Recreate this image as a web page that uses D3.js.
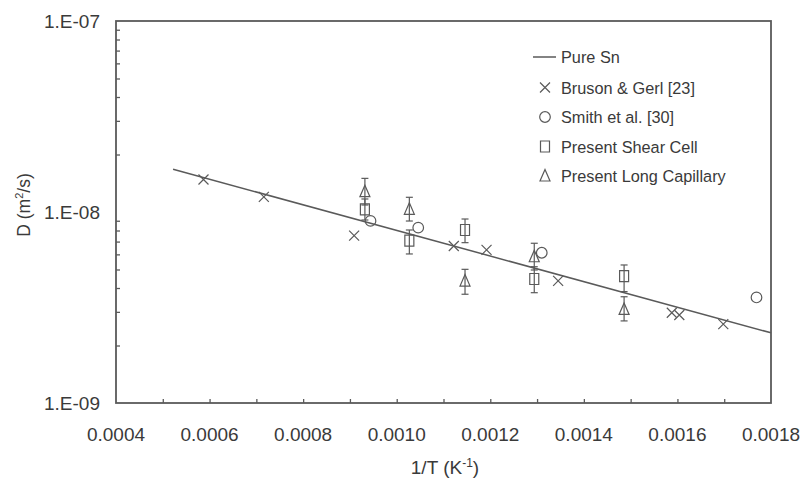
<!DOCTYPE html>
<html>
<head>
<meta charset="utf-8">
<script src="https://cdn.jsdelivr.net/npm/d3@7"></script>
<style>
  html, body { margin: 0; padding: 0; background: #fff; }
  svg { display: block; font-family: "Liberation Sans", Arial, sans-serif; }
</style>
</head>
<body>
<svg id="chart" width="802" height="479"></svg>
<script>
// ---------- data ----------
const xTickValues = [0.0004, 0.0006, 0.0008, 0.0010, 0.0012, 0.0014, 0.0016, 0.0018];
const xTickLabels = ["0.0004", "0.0006", "0.0008", "0.0010", "0.0012", "0.0014", "0.0016", "0.0018"];
const yTickValues = [1e-9, 1e-8, 1e-7];
const yTickLabels = ["1.E-09", "1.E-08", "1.E-07"];

// Pure Sn fit line (end points)
const pureX = [0.000522, 0.0018];
const pureD = [1.675e-8, 2.33e-9];

// Bruson & Gerl [23]
const brusonX = [0.000587, 0.000716, 0.000909, 0.001122, 0.001192, 0.001345, 0.001588, 0.001604, 0.001698];
const brusonD = [1.48e-8, 1.20e-8, 7.52e-9, 6.64e-9, 6.33e-9, 4.36e-9, 2.97e-9, 2.89e-9, 2.59e-9];

// Smith et al. [30]
const smithX = [0.000944, 0.001046, 0.001310, 0.001769];
const smithD = [8.98e-9, 8.28e-9, 6.12e-9, 3.57e-9];

// Present Shear Cell (with error bars)
const shearX  = [0.000932, 0.001027, 0.001146, 0.001294, 0.001486];
const shearD  = [1.033e-8, 7.08e-9, 8.05e-9, 4.46e-9, 4.62e-9];
const shearLo = [9.08e-9, 6.03e-9, 6.91e-9, 3.78e-9, 3.83e-9];
const shearHi = [1.17e-8, 8.05e-9, 9.19e-9, 5.17e-9, 5.28e-9];

// Present Long Capillary (with error bars)
const capX  = [0.000932, 0.001027, 0.001146, 0.001294, 0.001486];
const capD  = [1.277e-8, 1.033e-8, 4.35e-9, 5.83e-9, 3.09e-9];
const capLo = [1.088e-8, 8.97e-9, 3.71e-9, 4.97e-9, 2.69e-9];
const capHi = [1.50e-8, 1.194e-8, 5.01e-9, 6.86e-9, 3.60e-9];

const legendLabels = ["Pure Sn", "Bruson & Gerl [23]", "Smith et al. [30]", "Present Shear Cell", "Present Long Capillary"];

// ---------- layout ----------
const plot = { left: 116, right: 771, top: 21, bottom: 403 };
const ink = "#5a5a5a";
const textColor = "#3a3a3a";

const svg = d3.select("#chart");
const x = d3.scaleLinear().domain([0.0004, 0.0018]).range([plot.left, plot.right]);
const y = d3.scaleLog().domain([1e-9, 1e-7]).range([plot.bottom, plot.top]);

// frame
svg.append("rect")
  .attr("x", plot.left).attr("y", plot.top)
  .attr("width", plot.right - plot.left).attr("height", plot.bottom - plot.top)
  .attr("fill", "none").attr("stroke", ink).attr("stroke-width", 1.8);

// x axis ticks (every 0.0001, inside)
const xMinor = d3.range(5, 18).map(i => i / 10000);
const xAxis = d3.axisBottom(x).tickValues(xMinor).tickSize(-4).tickFormat("");
const gx = svg.append("g").attr("transform", `translate(0,${plot.bottom})`).call(xAxis);
gx.select(".domain").remove();
gx.selectAll(".tick line").attr("stroke", ink).attr("stroke-width", 1.3);

// x labels
svg.append("g").selectAll("text").data(xTickValues).join("text")
  .attr("x", d => x(d)).attr("y", 441)
  .attr("text-anchor", "middle")
  .attr("font-size", 19).attr("fill", textColor)
  .text((d, i) => xTickLabels[i]);

// y axis ticks (log minor, inside)
const yMinor = [];
[1e-9, 1e-8].forEach(b => { for (let k = 2; k <= 9; k++) yMinor.push(b * k); });
const yAxis = d3.axisLeft(y).tickValues(yMinor).tickSize(-4).tickFormat("");
const gy = svg.append("g").attr("transform", `translate(${plot.left},0)`).call(yAxis);
gy.select(".domain").remove();
gy.selectAll(".tick line").attr("stroke", ink).attr("stroke-width", 1.3);

// y labels
svg.append("g").selectAll("text").data(yTickValues).join("text")
  .attr("x", 100).attr("y", d => y(d) + 7)
  .attr("text-anchor", "end")
  .attr("font-size", 19).attr("fill", textColor)
  .text((d, i) => yTickLabels[i]);

// axis titles
const xt = svg.append("text")
  .attr("x", 445).attr("y", 474)
  .attr("text-anchor", "middle").attr("font-size", 19).attr("fill", textColor);
xt.append("tspan").text("1/T (K");
xt.append("tspan").attr("dy", -7).attr("font-size", 12).text("-1");
xt.append("tspan").attr("dy", 7).text(")");

const yt = svg.append("text")
  .attr("transform", "translate(30,205) rotate(-90)")
  .attr("text-anchor", "middle").attr("font-size", 17.5).attr("fill", textColor);
yt.append("tspan").text("D (m");
yt.append("tspan").attr("dy", -7).attr("font-size", 11).text("2");
yt.append("tspan").attr("dy", 7).text("/s)");

// ---------- marks ----------
const line = d3.line().x(d => x(d[0])).y(d => y(d[1]));
svg.append("path")
  .datum(pureX.map((v, i) => [v, pureD[i]]))
  .attr("d", line).attr("fill", "none").attr("stroke", ink).attr("stroke-width", 1.5);

const shapes = {
  times: "M-5,-5L5,5M-5,5L5,-5",
  circle: "M5.3,0A5.3,5.3 0 1 1 -5.3,0A5.3,5.3 0 1 1 5.3,0Z",
  square: "M-4.5,-5.5H4.5V5.5H-4.5Z",
  triangle: "M0,-6.5L5,5H-5Z"
};

function drawErrors(xs, ds, lo, hi) {
  const g = svg.append("g").attr("stroke", ink).attr("stroke-width", 1.2);
  xs.forEach((v, i) => {
    const cx = x(v);
    g.append("line").attr("x1", cx).attr("x2", cx).attr("y1", y(lo[i])).attr("y2", y(hi[i]));
    g.append("line").attr("x1", cx - 3.5).attr("x2", cx + 3.5).attr("y1", y(lo[i])).attr("y2", y(lo[i]));
    g.append("line").attr("x1", cx - 3.5).attr("x2", cx + 3.5).attr("y1", y(hi[i])).attr("y2", y(hi[i]));
  });
}

function drawMarkers(xs, ds, shape) {
  svg.append("g").selectAll("path").data(xs).join("path")
    .attr("transform", (d, i) => `translate(${x(d)},${y(ds[i])})`)
    .attr("d", shapes[shape])
    .attr("fill", "none").attr("stroke", ink).attr("stroke-width", 1.2);
}

drawErrors(shearX, shearD, shearLo, shearHi);
drawErrors(capX, capD, capLo, capHi);
drawMarkers(brusonX, brusonD, "times");
drawMarkers(smithX, smithD, "circle");
drawMarkers(shearX, shearD, "square");
drawMarkers(capX, capD, "triangle");

// ---------- legend ----------
const legendY = [57, 87.5, 117, 146.5, 176];
const legendShapes = [null, "times", "circle", "square", "triangle"];
const lg = svg.append("g");
legendLabels.forEach((lab, i) => {
  if (i === 0) {
    lg.append("line").attr("x1", 533).attr("x2", 556)
      .attr("y1", legendY[i]).attr("y2", legendY[i])
      .attr("stroke", ink).attr("stroke-width", 1.5);
  } else {
    lg.append("path").attr("transform", `translate(545,${legendY[i]})`)
      .attr("d", shapes[legendShapes[i]])
      .attr("fill", "none").attr("stroke", ink).attr("stroke-width", 1.2);
  }
  lg.append("text").attr("x", 561).attr("y", legendY[i] + 6)
    .attr("font-size", 16.3).attr("fill", textColor).text(lab);
});
</script>
</body>
</html>
